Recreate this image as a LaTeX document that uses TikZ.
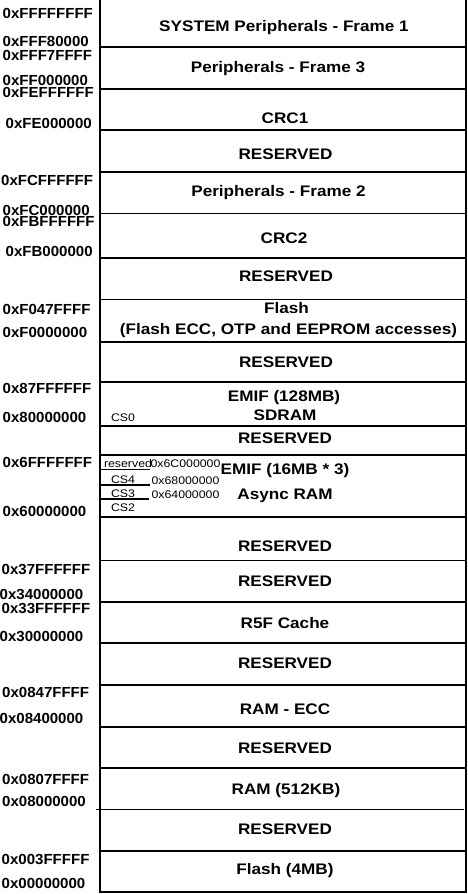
\documentclass[tikz,border=0pt]{standalone}
\usepackage{fontspec}
\setmainfont{Liberation Sans}
\newfontfamily\bigf{Liberation Sans}[FakeStretch=1.12]
\newfontfamily\leftf{Liberation Sans}[FakeStretch=1.03]
\newfontfamily\smallf{Liberation Sans}[FakeStretch=1.12]
\begin{document}
\begin{tikzpicture}[x=1pt,y=-1pt,
  lbl/.style={font=\bigf\bfseries\fontsize{15.3}{18}\selectfont, anchor=base, inner sep=0pt},
  addr/.style={font=\leftf\bfseries\fontsize{14.6}{16}\selectfont, anchor=base west, inner sep=0pt},
  tiny/.style={font=\smallf\fontsize{11}{12}\selectfont, anchor=base, inner sep=0pt},
  divider/.style={line width=1.7pt, line cap=rect},
  subdiv/.style={line width=1.2pt}]
\useasboundingbox (0,0) rectangle (468,894);
\fill[white] (0,0) rectangle (468,894);
% frame
\draw[divider, line cap=butt] (100,-2) -- (100,892) -- (466,892) -- (466,-2);
% dividers
\foreach \y in {47.3,89,172,213.5,299.5,382.3,426,455,517,560.5,601.7,643.3,685,726.7,768.3,851}
  \draw[divider] (100,\y) -- (466,\y);
\draw[divider] (101,130.3) -- (464,130.3);
\draw[divider] (102,258.3) -- (466,258.3);
\draw[divider] (100,342.3) -- (464,342.3);
\draw[divider] (97,809.5) -- (463,809.5);
% EMIF async sub-dividers
\draw[subdiv] (100,469.5) -- (150,469.5);
\draw[subdiv] (100,485) -- (150,485);
\draw[subdiv] (100,499) -- (149,499);
% region labels
\node[lbl] (r1) at (284,31) {SYSTEM Peripherals - Frame 1};
\node[lbl] (r2) at (278,72.8) {Peripherals - Frame 3};
\node[lbl] (r3) at (285,123) {CRC1};
\node[lbl] (r4) at (285.5,159.3) {RESERVED};
\node[lbl] (r5) at (278.5,196.3) {Peripherals - Frame 2};
\node[lbl] (r6) at (284,243.3) {CRC2};
\node[lbl] (r7) at (286,281.8) {RESERVED};
\node[lbl] (r8) at (286.5,313.8) {Flash};
\node[lbl] (r9) at (288.5,334.3) {(Flash ECC, OTP and EEPROM accesses)};
\node[lbl] (r10) at (286,367.3) {RESERVED};
\node[lbl] (r11) at (284,401.3) {EMIF (128MB)};
\node[lbl] (r12) at (285,420.8) {SDRAM};
\node[lbl] (r13) at (285,443.3) {RESERVED};
\node[lbl] (r14) at (285,474.3) {EMIF (16MB * 3)};
\node[lbl] (r15) at (285,499.3) {Async RAM};
\node[lbl] (r16) at (285,551.8) {RESERVED};
\node[lbl] (r17) at (285,586.3) {RESERVED};
\node[lbl] (r18) at (285,628.8) {R5F Cache};
\node[lbl] (r19) at (285,668.3) {RESERVED};
\node[lbl] (r20) at (285,714.3) {RAM - ECC};
\node[lbl] (r21) at (285,753.3) {RESERVED};
\node[lbl] (r22) at (286,794.8) {RAM (512KB)};
\node[lbl] (r23) at (285,834.3) {RESERVED};
\node[lbl] (r24) at (285,874.3) {Flash (4MB)};
% small labels
\node[tiny] (cs0) at (123,421) {CS0};
\node[tiny] (rsv) at (128,467.5) {reserved};
\node[tiny] (cs4) at (123,483) {CS4};
\node[tiny] (cs3) at (123,497) {CS3};
\node[tiny] (cs2) at (123,511) {CS2};
\node[tiny] (h6c) at (185.5,467.5) {0x6C000000};
\node[tiny] (h68) at (185.5,484) {0x68000000};
\node[tiny] (h64) at (185.5,498.5) {0x64000000};
% address labels
\node[addr] (a1) at (2.5,18) {0xFFFFFFFF};
\node[addr] (a2) at (2.5,46) {0xFFF80000};
\node[addr] (a3) at (2.5,60) {0xFFF7FFFF};
\node[addr] (a4) at (2.5,85.3) {0xFF000000};
\node[addr] (a5) at (2.5,97.7) {0xFEFFFFFF};
\node[addr] (a6) at (5.5,128) {0xFE000000};
\node[addr] (a7) at (1,185) {0xFCFFFFFF};
\node[addr] (a8) at (2.5,215.3) {0xFC000000};
\node[addr] (a9) at (2.5,226.7) {0xFBFFFFFF};
\node[addr] (a10) at (5.5,256) {0xFB000000};
\node[addr] (a11) at (2.5,314) {0xF047FFFF};
\node[addr] (a12) at (2.5,337) {0xF0000000};
\node[addr] (a13) at (2.5,393) {0x87FFFFFF};
\node[addr] (a14) at (2.5,422) {0x80000000};
\node[addr] (a15) at (2.5,467) {0x6FFFFFFF};
\node[addr] (a16) at (2.5,516) {0x60000000};
\node[addr] (a17) at (1.5,574) {0x37FFFFFF};
\node[addr] (a18) at (-0.5,599) {0x34000000};
\node[addr] (a19) at (1.5,613.5) {0x33FFFFFF};
\node[addr] (a20) at (-0.5,641) {0x30000000};
\node[addr] (a21) at (2,697) {0x0847FFFF};
\node[addr] (a22) at (-0.5,723) {0x08400000};
\node[addr] (a23) at (2,784) {0x0807FFFF};
\node[addr] (a24) at (2,806) {0x08000000};
\node[addr] (a25) at (1.5,864) {0x003FFFFF};
\node[addr] (a26) at (1.5,888) {0x00000000};
\end{tikzpicture}
\end{document}
